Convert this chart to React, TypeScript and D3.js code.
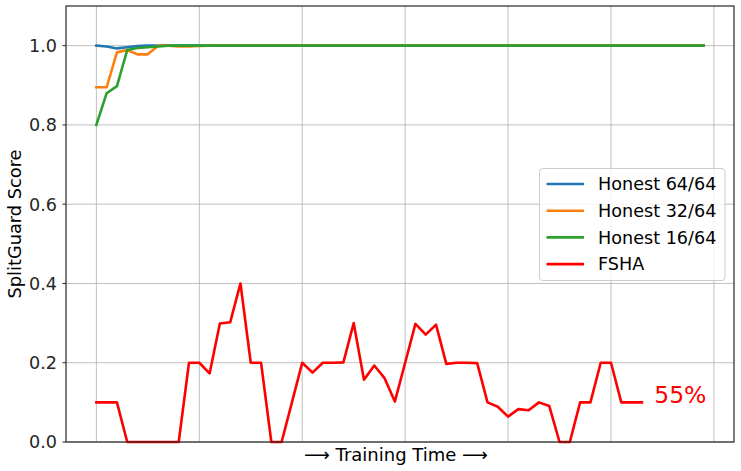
import React, { useEffect } from "react";
import * as d3 from "d3";

const honest64 = [1.0, 0.998, 0.993, 0.996, 0.999, 1.0, 1.0, 1.0, 1.0, 1.0,
  1.0, 1.0, 1.0, 1.0, 1.0, 1.0, 1.0, 1.0, 1.0, 1.0,
  1.0, 1.0, 1.0, 1.0, 1.0, 1.0, 1.0, 1.0, 1.0, 1.0,
  1.0, 1.0, 1.0, 1.0, 1.0, 1.0, 1.0, 1.0, 1.0, 1.0,
  1.0, 1.0, 1.0, 1.0, 1.0, 1.0, 1.0, 1.0, 1.0, 1.0,
  1.0, 1.0, 1.0, 1.0, 1.0, 1.0, 1.0, 1.0, 1.0, 1.0];
const honest32 = [0.895, 0.895, 0.983, 0.989, 0.978, 0.978, 1.0, 1.0, 0.998, 0.998,
  0.999, 1.0, 1.0, 1.0, 1.0, 1.0, 1.0, 1.0, 1.0, 1.0,
  1.0, 1.0, 1.0, 1.0, 1.0, 1.0, 1.0, 1.0, 1.0, 1.0,
  1.0, 1.0, 1.0, 1.0, 1.0, 1.0, 1.0, 1.0, 1.0, 1.0,
  1.0, 1.0, 1.0, 1.0, 1.0, 1.0, 1.0, 1.0, 1.0, 1.0,
  1.0, 1.0, 1.0, 1.0, 1.0, 1.0, 1.0, 1.0, 1.0, 1.0];
const honest16 = [0.8, 0.88, 0.898, 0.989, 0.994, 0.996, 0.998, 1.0, 1.0, 1.0,
  1.0, 1.0, 1.0, 1.0, 1.0, 1.0, 1.0, 1.0, 1.0, 1.0,
  1.0, 1.0, 1.0, 1.0, 1.0, 1.0, 1.0, 1.0, 1.0, 1.0,
  1.0, 1.0, 1.0, 1.0, 1.0, 1.0, 1.0, 1.0, 1.0, 1.0,
  1.0, 1.0, 1.0, 1.0, 1.0, 1.0, 1.0, 1.0, 1.0, 1.0,
  1.0, 1.0, 1.0, 1.0, 1.0, 1.0, 1.0, 1.0, 1.0, 1.0];
const fsha = [0.1, 0.1, 0.1, 0, 0, 0, 0, 0, 0, 0.2,
  0.2, 0.173, 0.299, 0.302, 0.4, 0.2, 0.2, 0, 0, 0.1,
  0.2, 0.175, 0.2, 0.2, 0.201, 0.3, 0.157, 0.193, 0.161, 0.102,
  0.2, 0.298, 0.271, 0.296, 0.197, 0.2, 0.2, 0.199, 0.1, 0.089,
  0.064, 0.083, 0.08, 0.1, 0.091, 0, 0, 0.1, 0.1, 0.2,
  0.2, 0.1, 0.1, 0.1];

const seriesNames = ["Honest 64/64", "Honest 32/64", "Honest 16/64", "FSHA"];
const seriesColors = ["#1f77b4", "#ff7f0e", "#2ca02c", "#ff0000"];
const yTicks = [0.0, 0.2, 0.4, 0.6, 0.8, 1.0];
const xGrid = [0, 10, 20, 30, 40, 50, 60];
const annotation = "55%";

const W = 741, H = 471;
const M = { left: 66, right: 734, top: 6, bottom: 442 };
const FONT = "DejaVu Sans, sans-serif";

export default function App() {
  useEffect(() => {
    document.body.style.margin = "0";
  }, []);
  const x = d3.scaleLinear().domain([-2.95, 61.95]).range([M.left, M.right]);
  const y = d3.scaleLinear().domain([0, 1.1]).range([M.bottom, M.top]);
  const line = d3.line<number>().x((_, i) => x(i)).y((d) => y(d));
  const all = [honest64, honest32, honest16, fsha];
  const legendX = 539.5, legendY = 168.5, rowH = 26.7;
  return (
    <svg width={W} height={H} style={{ position: "absolute", left: 0, top: 0, background: "#fff" }} fontFamily={FONT}>
      <rect x={0} y={0} width={W} height={H} fill="#fff" />
      {xGrid.map((g) => (
        <line key={"gx" + g} x1={x(g)} x2={x(g)} y1={M.top} y2={M.bottom} stroke="#b0b0b0" strokeWidth={0.8} />
      ))}
      {yTicks.map((t) => (
        <line key={"gy" + t} x1={M.left} x2={M.right} y1={y(t)} y2={y(t)} stroke="#b0b0b0" strokeWidth={0.8} />
      ))}
      {all.map((s, i) => (
        <path key={"s" + i} d={line(s) || ""} fill="none" stroke={seriesColors[i]} strokeWidth={2.6} strokeLinejoin="round" strokeLinecap="square" />
      ))}
      <text x={x(54.2)} y={y(0.1) + 0.5} fill="#ff0000" fontSize={23.5}>{annotation}</text>
      <rect x={M.left} y={M.top} width={M.right - M.left} height={M.bottom - M.top} fill="none" stroke="#262626" strokeWidth={1.2} />
      {yTicks.map((t) => (
        <g key={"t" + t}>
          <line x1={M.left - 3.5} x2={M.left} y1={y(t)} y2={y(t)} stroke="#262626" strokeWidth={1} />
          <text x={M.left - 9} y={y(t)} dy="0.36em" textAnchor="end" fontSize={17.6} fill="#262626">{t.toFixed(1)}</text>
        </g>
      ))}
      <text x={396} y={461} textAnchor="middle" fontSize={18} fill="#000">⟶ Training Time ⟶</text>
      <text transform={`translate(21,${(M.top + M.bottom) / 2}) rotate(-90)`} textAnchor="middle" fontSize={17.8} fill="#000">SplitGuard Score</text>
      <rect x={legendX} y={legendY} width={185.5} height={112} rx={3} fill="#fff" fillOpacity={0.8} stroke="#cccccc" strokeWidth={1} />
      {seriesNames.map((n, i) => (
        <g key={"l" + i}>
          <line x1={546.5} x2={584} y1={184 + i * rowH} y2={184 + i * rowH} stroke={seriesColors[i]} strokeWidth={2.6} />
          <text x={598} y={184 + i * rowH} dy="0.36em" fontSize={17.6} fill="#000">{n}</text>
        </g>
      ))}
    </svg>
  );
}
